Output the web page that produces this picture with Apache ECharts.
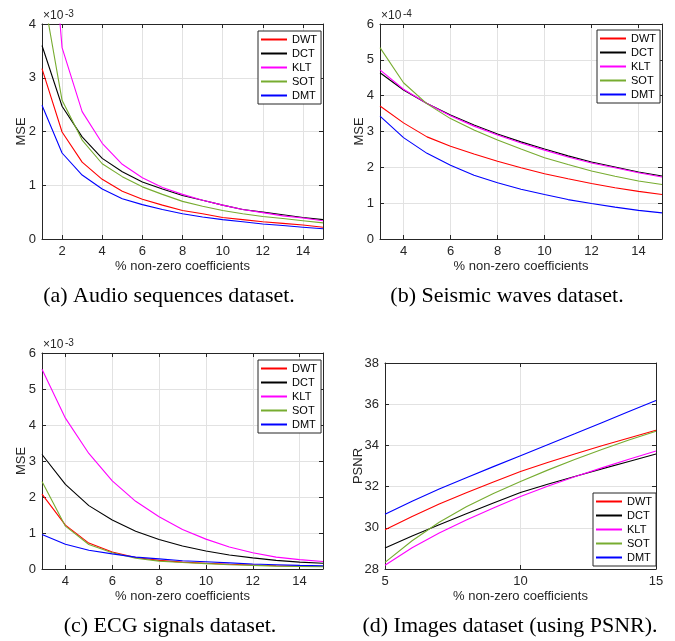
<!DOCTYPE html>
<html><head><meta charset="utf-8">
<script src="https://cdn.jsdelivr.net/npm/echarts@6/dist/echarts.min.js"></script>
<style>html,body{margin:0;padding:0;background:#fff}#c{width:675px;height:641px}</style>
</head><body><div id="c"></div>
<script>
const names = ['DWT', 'DCT', 'KLT', 'SOT', 'DMT'];
const colors = ['#ff0000', '#000000', '#ff00ff', '#77ac30', '#0000ff'];

// (a) Audio sequences — MSE (×10^-3)
const xA = [1, 2, 3, 4, 5, 6, 7, 8, 9, 10, 11, 12, 13, 14, 15];
const aDWT = [3.17, 1.99, 1.43, 1.11, 0.89, 0.74, 0.63, 0.53, 0.47, 0.40, 0.36, 0.32, 0.29, 0.26, 0.22];
const aDCT = [3.60, 2.47, 1.90, 1.50, 1.25, 1.06, 0.93, 0.81, 0.72, 0.63, 0.55, 0.50, 0.45, 0.40, 0.36];
const aKLT = [8.00, 3.56, 2.37, 1.78, 1.39, 1.14, 0.96, 0.83, 0.72, 0.63, 0.55, 0.49, 0.43, 0.39, 0.34];
const aSOT = [4.70, 2.58, 1.84, 1.40, 1.16, 0.97, 0.83, 0.70, 0.61, 0.53, 0.47, 0.42, 0.38, 0.34, 0.30];
const aDMT = [2.49, 1.60, 1.19, 0.93, 0.75, 0.64, 0.55, 0.47, 0.41, 0.36, 0.32, 0.28, 0.25, 0.22, 0.19];
const xTicksA = [2, 4, 6, 8, 10, 12, 14];
const yTicksA = [0, 1, 2, 3, 4];

// (b) Seismic waves — MSE (×10^-4)
const xB = [3, 4, 5, 6, 7, 8, 9, 10, 11, 12, 13, 14, 15];
const bDWT = [3.71, 3.24, 2.85, 2.59, 2.37, 2.17, 1.99, 1.82, 1.68, 1.55, 1.43, 1.33, 1.24];
const bDCT = [4.64, 4.16, 3.78, 3.46, 3.18, 2.93, 2.71, 2.51, 2.32, 2.15, 2.01, 1.87, 1.76];
const bKLT = [4.72, 4.18, 3.78, 3.44, 3.15, 2.90, 2.68, 2.48, 2.29, 2.12, 1.99, 1.85, 1.73];
const bSOT = [5.34, 4.36, 3.77, 3.36, 3.04, 2.76, 2.51, 2.27, 2.08, 1.90, 1.75, 1.62, 1.52];
const bDMT = [3.43, 2.83, 2.39, 2.06, 1.78, 1.57, 1.39, 1.24, 1.10, 0.99, 0.89, 0.80, 0.73];
const xTicksB = [4, 6, 8, 10, 12, 14];
const yTicksB = [0, 1, 2, 3, 4, 5, 6];

// (c) ECG signals — MSE (×10^-3)
const xC = [3, 4, 5, 6, 7, 8, 9, 10, 11, 12, 13, 14, 15];
const cDWT = [2.08, 1.22, 0.72, 0.47, 0.32, 0.24, 0.19, 0.16, 0.13, 0.11, 0.09, 0.08, 0.07];
const cDCT = [3.18, 2.35, 1.76, 1.36, 1.05, 0.82, 0.64, 0.50, 0.39, 0.31, 0.24, 0.19, 0.16];
const cKLT = [5.55, 4.19, 3.21, 2.45, 1.88, 1.45, 1.10, 0.83, 0.61, 0.45, 0.33, 0.26, 0.21];
const cSOT = [2.43, 1.19, 0.68, 0.45, 0.30, 0.22, 0.18, 0.15, 0.12, 0.10, 0.08, 0.07, 0.065];
const cDMT = [0.96, 0.69, 0.52, 0.42, 0.33, 0.28, 0.23, 0.20, 0.17, 0.14, 0.12, 0.10, 0.09];
const xTicksC = [4, 6, 8, 10, 12, 14];
const yTicksC = [0, 1, 2, 3, 4, 5, 6];

// (d) Images — PSNR
const xD = [5, 6, 7, 8, 9, 10, 11, 12, 13, 14, 15];
const dDWT = [29.90, 30.55, 31.15, 31.70, 32.22, 32.73, 33.17, 33.58, 33.98, 34.36, 34.74];
const dDCT = [29.02, 29.60, 30.15, 30.68, 31.20, 31.71, 32.11, 32.49, 32.86, 33.22, 33.58];
const dKLT = [28.18, 29.03, 29.75, 30.38, 30.96, 31.52, 32.02, 32.48, 32.91, 33.33, 33.73];
const dSOT = [28.32, 29.37, 30.27, 31.02, 31.67, 32.25, 32.80, 33.32, 33.80, 34.26, 34.69];
const dDMT = [30.66, 31.29, 31.88, 32.43, 32.97, 33.50, 34.03, 34.56, 35.10, 35.64, 36.18];
const xTicksD = [5, 10, 15];
const yTicksD = [28, 30, 32, 34, 36, 38];

const xLabel = '% non-zero coefficients';
const captions = ['(a) Audio sequences dataset.', '(b) Seismic waves dataset.', '(c) ECG signals dataset.', '(d) Images dataset (using PSNR).'];
const exponents = ['-3', '-4', '-3', null];
const yNames = ['MSE', 'MSE', 'MSE', 'PSNR'];

const panels = [
  { xs: xA, ys: [aDWT, aDCT, aKLT, aSOT, aDMT], xr: [1, 15], yr: [0, 4], xt: xTicksA, yt: yTicksA },
  { xs: xB, ys: [bDWT, bDCT, bKLT, bSOT, bDMT], xr: [3, 15], yr: [0, 6], xt: xTicksB, yt: yTicksB },
  { xs: xC, ys: [cDWT, cDCT, cKLT, cSOT, cDMT], xr: [3, 15], yr: [0, 6], xt: xTicksC, yt: yTicksC },
  { xs: xD, ys: [dDWT, dDCT, dKLT, dSOT, dDMT], xr: [5, 15], yr: [28, 38], xt: xTicksD, yt: yTicksD }
];

// layout
const FONT = '"Liberation Sans", Arial, sans-serif';
const AX = '#262626';
const GRIDC = '#e2e2e2';
const grids = [
  { left: 42, top: 24, width: 281, height: 215 },
  { left: 380, top: 24, width: 282, height: 215 },
  { left: 42, top: 353, width: 281, height: 216 },
  { left: 385, top: 363, width: 271, height: 206 }
];
const yNameGaps = [14, 14, 14, 20];
const legendPos = [
  { left: 258, top: 31 }, { left: 597, top: 30 }, { left: 258, top: 360 }, { left: 593, top: 493 }
];
const capPos = [[169, 296], [507, 296], [170, 626], [510, 626]];

const xAxis = [], yAxis = [], series = [], legend = [], graphic = [];
panels.forEach((p, i) => {
  const common = (ticks) => ({
    axisLine: { show: true, onZero: false, lineStyle: { color: AX, width: 1 } },
    axisTick: { show: true, inside: true, length: 4, customValues: ticks, lineStyle: { color: AX, width: 1 } }
  });
  xAxis.push(Object.assign({
    type: 'value', gridIndex: i, min: p.xr[0], max: p.xr[1], position: 'bottom',
    name: xLabel, nameLocation: 'middle', nameGap: 21, nameMoveOverlap: false,
    nameTextStyle: { fontSize: 13, color: AX, fontFamily: FONT },
    axisLabel: { customValues: p.xt, margin: 6, fontSize: 13, color: AX, fontFamily: FONT },
    splitLine: { show: true, lineStyle: { color: GRIDC, width: 1 } }
  }, common(p.xt)));
  xAxis.push(Object.assign({
    type: 'value', gridIndex: i, min: p.xr[0], max: p.xr[1], position: 'top',
    axisLabel: { show: false }, splitLine: { show: false }
  }, common(p.xt)));
  yAxis.push(Object.assign({
    type: 'value', gridIndex: i, min: p.yr[0], max: p.yr[1], position: 'left',
    name: yNames[i], nameLocation: 'middle', nameGap: yNameGaps[i], nameMoveOverlap: false,
    nameTextStyle: { fontSize: 13, color: AX, fontFamily: FONT },
    axisLabel: { customValues: p.yt, margin: 6, fontSize: 13, color: AX, fontFamily: FONT },
    splitLine: { show: true, lineStyle: { color: GRIDC, width: 1 } }
  }, common(p.yt)));
  yAxis.push(Object.assign({
    type: 'value', gridIndex: i, min: p.yr[0], max: p.yr[1], position: 'right',
    axisLabel: { show: false }, splitLine: { show: false }
  }, common(p.yt)));
  names.forEach((n, k) => {
    series.push({
      type: 'line', name: n, xAxisIndex: 2 * i, yAxisIndex: 2 * i,
      data: p.xs.map((x, j) => [x, p.ys[k][j]]),
      showSymbol: false, symbol: 'none', clip: true, animation: false,
      lineStyle: { color: colors[k], width: 1.1 }, itemStyle: { color: colors[k] },
      z: 3 + k
    });
  });
  legend.push({
    orient: 'vertical', left: legendPos[i].left, top: legendPos[i].top,
    data: names, icon: 'rect', itemWidth: 26, itemHeight: 2, itemGap: 3,
    padding: [3, 4, 3, 3], backgroundColor: '#fff', borderColor: AX, borderWidth: 1,
    selectedMode: false,
    textStyle: { fontSize: 11, lineHeight: 11, color: '#000', fontFamily: FONT }
  });
  graphic.push({
    type: 'text', x: capPos[i][0], y: capPos[i][1],
    style: { text: captions[i], fontSize: 22, fontFamily: '"Liberation Serif", "Times New Roman", serif', fill: '#000', align: 'center', verticalAlign: 'middle' }
  });
  if (exponents[i]) {
    const g = grids[i];
    graphic.push({
      type: 'text', x: g.left + 1, y: g.top - 8,
      style: { text: '\u00d710', fontSize: 12, fontFamily: FONT, fill: AX, align: 'left', verticalAlign: 'middle' }
    });
    graphic.push({
      type: 'text', x: g.left + 23, y: g.top - 10,
      style: { text: exponents[i], fontSize: 10, fontFamily: FONT, fill: AX, align: 'left', verticalAlign: 'middle' }
    });
  }
});

const chart = echarts.init(document.getElementById('c'), null, { renderer: 'canvas' });
chart.setOption({
  backgroundColor: '#fff',
  animation: false,
  grid: grids.map(g => Object.assign({ containLabel: false, show: false }, g)),
  xAxis, yAxis, series, legend, graphic
});
</script>
</body></html>
